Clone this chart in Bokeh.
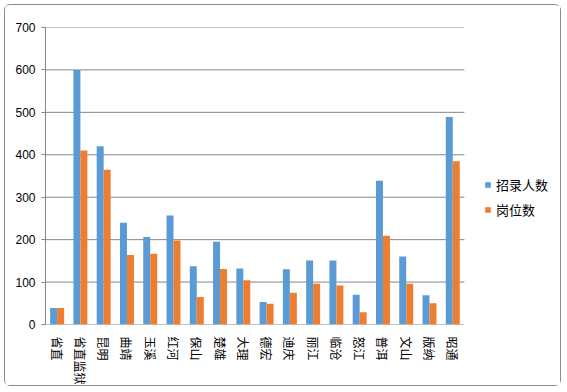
from bokeh.plotting import figure
from bokeh.models import ColumnDataSource, Legend, LegendItem, FixedTicker, FactorRange
from bokeh.transform import dodge
from bokeh.embed import file_html
from bokeh.resources import INLINE

categories = ["省直", "省直监狱", "昆明", "曲靖", "玉溪", "红河", "保山", "楚雄", "大理",
              "德宏", "迪庆", "丽江", "临沧", "怒江", "普洱", "文山", "版纳", "昭通"]
recruits = [39, 600, 420, 240, 206, 257, 137, 195, 132, 53, 130, 151, 151, 70, 339, 160, 69, 489]
posts = [39, 410, 365, 164, 167, 198, 65, 131, 104, 49, 75, 96, 92, 29, 209, 96, 50, 385]
y_ticks = [0, 100, 200, 300, 400, 500, 600, 700]
series_names = ["招录人数", "岗位数"]
colors = ["#5B9BD5", "#ED7D31"]
# blank factors reserve room for the legend to the right of the bars
legend_room = [" ", "  ", "   ", "    "]

src = ColumnDataSource(dict(cat=categories, a=recruits, b=posts))
grid_src = ColumnDataSource(dict(x0=[categories[0]] * len(y_ticks),
                                 x1=[categories[-1]] * len(y_ticks), y=y_ticks))

x_range = FactorRange(factors=categories + legend_room)
p = figure(x_range=x_range, y_range=(0, 700), width=557, height=382,
           output_backend="svg", toolbar_location=None,
           min_border_left=40, min_border_right=5, min_border_top=22, min_border_bottom=63)
p.styles = {"border": "1px solid #8c8c8c", "border-radius": "6px", "margin": "4px"}
p.outline_line_color = None
p.background_fill_color = "white"
p.border_fill_color = "white"
p.xgrid.grid_line_color = None
p.ygrid.grid_line_color = None

p.segment(x0=dodge("x0", -0.5, range=x_range), x1=dodge("x1", 0.5, range=x_range),
          y0="y", y1="y", source=grid_src, line_color="#868686", line_width=1)

r1 = p.vbar(x=dodge("cat", -0.15, range=x_range), top="a", width=0.3, source=src,
            fill_color=colors[0], line_color=None)
r2 = p.vbar(x=dodge("cat", 0.15, range=x_range), top="b", width=0.3, source=src,
            fill_color=colors[1], line_color=None)

p.yaxis.ticker = FixedTicker(ticks=y_ticks)
p.yaxis.axis_line_color = "#868686"
p.yaxis.major_tick_line_color = "#868686"
p.yaxis.major_tick_out = 4
p.yaxis.major_tick_in = 0
p.yaxis.minor_tick_line_color = None
p.yaxis.major_label_text_font = "Liberation Sans"
p.yaxis.major_label_text_font_size = "12px"
p.yaxis.major_label_text_color = "#000000"
p.yaxis.major_label_standoff = 6

p.xaxis.axis_line_color = None
p.xaxis.major_tick_line_color = None
p.xaxis.major_label_orientation = "vertical"
p.xaxis.major_label_text_font = "Noto Sans CJK SC"
p.xaxis.major_label_text_font_size = "12px"
p.xaxis.major_label_text_color = "#000000"
p.xaxis.major_label_standoff = 6

legend = Legend(items=[LegendItem(label=series_names[0], renderers=[r1]),
                       LegendItem(label=series_names[1], renderers=[r2])],
                location=(439, 105))
legend.border_line_color = None
legend.background_fill_alpha = 0
legend.padding = 0
legend.margin = 0
legend.glyph_width = 7
legend.glyph_height = 7
legend.label_standoff = 5
legend.spacing = 6
legend.label_text_font = "Noto Sans CJK SC"
legend.label_text_font_size = "13px"
legend.label_text_color = "#000000"
p.add_layout(legend)

open("out.html", "w").write(file_html(p, INLINE))
